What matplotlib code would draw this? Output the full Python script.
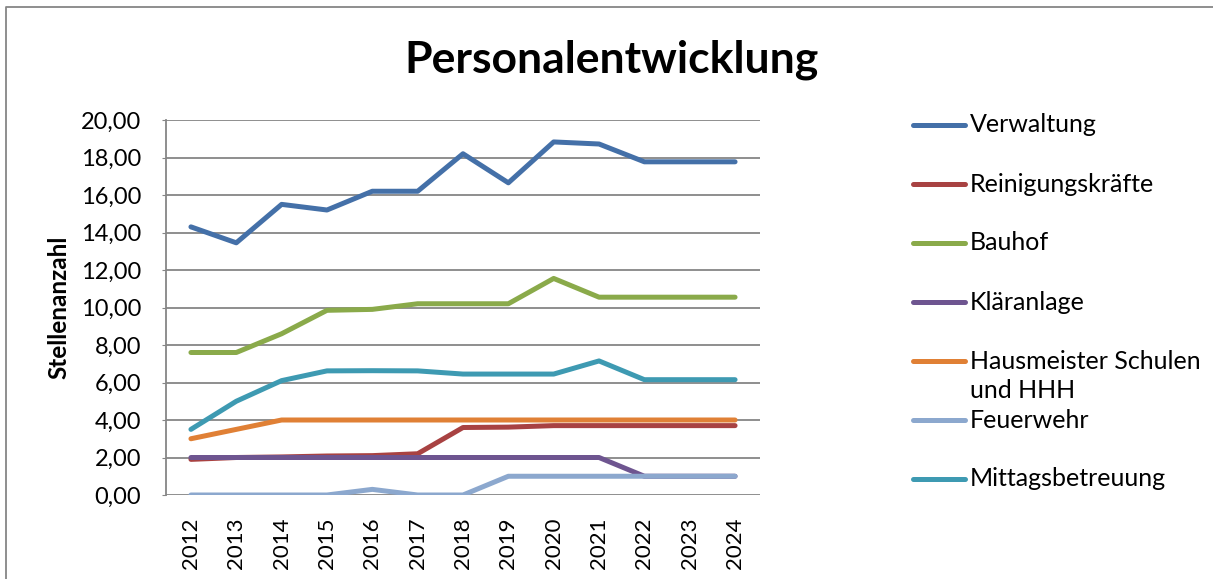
import matplotlib
matplotlib.use("Agg")
import matplotlib.pyplot as plt
from matplotlib.lines import Line2D
from matplotlib.ticker import FuncFormatter

plt.rcParams['font.family'] = ['Lato', 'DejaVu Sans']

years = ['2012', '2013', '2014', '2015', '2016', '2017', '2018',
         '2019', '2020', '2021', '2022', '2023', '2024']

verwaltung = [14.3, 13.45, 15.5, 15.2, 16.2, 16.2, 18.2, 16.65, 18.83, 18.72, 17.77, 17.77, 17.77]
reinigung = [1.9, 2.0, 2.03, 2.08, 2.1, 2.2, 3.6, 3.62, 3.7, 3.7, 3.7, 3.7, 3.7]
bauhof = [7.6, 7.6, 8.6, 9.85, 9.9, 10.2, 10.2, 10.2, 11.55, 10.55, 10.55, 10.55, 10.55]
klaeranlage = [2.0, 2.0, 2.0, 2.0, 2.0, 2.0, 2.0, 2.0, 2.0, 2.0, 1.0, 1.0, 1.0]
hausmeister = [3.0, 3.5, 4.0, 4.0, 4.0, 4.0, 4.0, 4.0, 4.0, 4.0, 4.0, 4.0, 4.0]
feuerwehr = [0.0, 0.0, 0.0, 0.0, 0.3, 0.0, 0.0, 1.0, 1.0, 1.0, 1.0, 1.0, 1.0]
mittag = [3.5, 5.0, 6.1, 6.62, 6.63, 6.62, 6.45, 6.45, 6.45, 7.15, 6.15, 6.15, 6.15]

names = ['Verwaltung', 'Reinigungskräfte', 'Bauhof', 'Kläranlage',
         'Hausmeister Schulen\nund HHH', 'Feuerwehr', 'Mittagsbetreuung']
colors = ['#4470A8', '#A84242', '#8AAA4A', '#6E5590', '#E08035', '#8CA8CE', '#3E9AB2']
series = [verwaltung, reinigung, bauhof, klaeranlage, hausmeister, feuerwehr, mittag]

fig = plt.figure(figsize=(12.13, 5.79), dpi=100)
W, H = 1213, 579
ax = fig.add_axes((166 / W, 1 - 495 / H, (760 - 166) / W, (495 - 120) / H))

x = list(range(len(years)))
for vals, c in zip(series, colors):
    ax.plot(x, vals, color=c, lw=3.6, solid_capstyle='round', solid_joinstyle='round')

ax.set_xlim(-0.55, len(years) - 0.45)
ax.set_ylim(0, 20)
ax.set_yticks([0, 2, 4, 6, 8, 10, 12, 14, 16, 18, 20])
ax.yaxis.set_major_formatter(FuncFormatter(lambda v, p: f"{v:.2f}".replace('.', ',')))
ax.set_xticks(x)
ax.set_xticklabels(years, rotation=90)
ax.tick_params(axis='y', length=3, color='#868686', labelsize=17, pad=15)
ax.tick_params(axis='x', length=0, labelsize=16, pad=16)
ax.grid(axis='y', color='#868686', lw=1.3)
ax.set_axisbelow(True)
for s in ['top', 'right', 'bottom']:
    ax.spines[s].set_visible(False)
ax.spines['left'].set_color('#868686')
ax.spines['left'].set_linewidth(1.3)

ax.set_ylabel('Stellenanzahl', fontsize=17.5, fontweight='bold')
ax.yaxis.set_label_coords((70 - 166) / 594, 0.5)
fig.text(611 / W, 1 - 60 / H, 'Personalentwicklung', fontsize=32, fontweight='bold',
         ha='center', va='center')

# legend drawn by hand, Excel spaces entries evenly
for i, (n, c) in enumerate(zip(names, colors)):
    yy = 1 - (125 + i * 59) / H
    fig.add_artist(Line2D([913 / W, 965 / W], [yy, yy], color=c, lw=3.6,
                          solid_capstyle='round'))
    ty = yy - 15 / H if '\n' in n else yy
    fig.text(970 / W, ty, n, fontsize=18, ha='left', va='center', linespacing=1.3)

# outer chart frame
fig.add_artist(Line2D([6 / W, 6 / W, 1.01], [-0.01, 1 - 7 / H, 1 - 7 / H],
                      color='#868686', lw=1.3))

fig.savefig('out.png', dpi=100)
